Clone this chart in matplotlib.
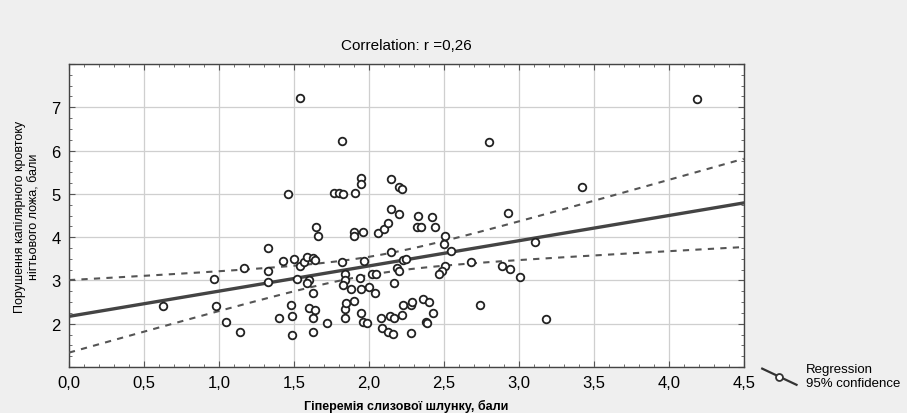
import numpy as np
import matplotlib.pyplot as plt
from matplotlib.lines import Line2D
from matplotlib.legend_handler import HandlerLine2D
from matplotlib.ticker import MultipleLocator, FuncFormatter

# hyperemia score (x) vs capillary blood-flow disturbance score (y)
hyperemia = [1.54, 1.82, 1.95, 1.95, 2.15, 2.20, 2.22, 1.46, 1.77, 1.80,
             1.83, 1.91, 2.15, 2.20, 1.65, 1.66, 1.90, 1.90, 1.96, 2.06,
             2.10, 2.13, 1.33, 2.15, 1.17, 0.97, 1.33, 1.33, 1.43, 1.50,
             1.54, 1.57, 1.59, 1.63, 1.64, 1.82, 1.97, 1.52, 1.60, 1.59,
             1.84, 1.84, 1.83, 1.88, 1.94, 1.95, 2.00, 2.04, 2.02, 2.05,
             2.19, 2.20, 2.17, 2.23, 2.25, 1.63, 0.63, 0.98, 1.05, 1.14,
             1.40, 1.48, 1.49, 1.49, 1.60, 1.64, 1.63, 1.63, 1.72, 1.84,
             1.85, 1.90, 1.84, 1.95, 1.96, 1.99, 2.08, 2.09, 2.13, 2.16,
             2.14, 2.17, 2.22, 2.23, 2.80, 2.33, 2.42, 2.32, 2.35, 2.44,
             2.51, 2.50, 2.55, 2.93, 3.11, 2.68, 2.89, 2.94, 3.01, 2.74,
             3.18, 2.51, 2.49, 2.47, 2.28, 2.29, 2.36, 2.40, 2.43, 2.38,
             2.39, 2.28, 4.19, 3.42]
capillary = [7.22, 6.23, 5.37, 5.23, 5.34, 5.15, 5.11, 4.99, 5.03, 5.02,
             5.00, 5.02, 4.64, 4.54, 4.24, 4.02, 4.13, 4.02, 4.11, 4.10,
             4.18, 4.33, 3.74, 3.65, 3.29, 3.03, 3.22, 2.97, 3.45, 3.50,
             3.33, 3.42, 3.55, 3.51, 3.47, 3.43, 3.46, 3.04, 3.00, 2.93,
             3.14, 3.01, 2.89, 2.80, 3.06, 2.80, 2.85, 2.70, 3.16, 3.16,
             3.29, 3.22, 2.93, 3.47, 3.50, 2.70, 2.41, 2.41, 2.03, 1.82,
             2.13, 2.43, 2.18, 1.74, 2.36, 2.31, 2.14, 1.82, 2.01, 2.35,
             2.49, 2.52, 2.14, 2.24, 2.05, 2.01, 2.13, 1.91, 1.81, 1.76,
             2.17, 2.14, 2.20, 2.43, 6.20, 4.48, 4.46, 4.24, 4.24, 4.23,
             4.02, 3.85, 3.69, 4.56, 3.88, 3.42, 3.33, 3.27, 3.09, 2.43,
             2.12, 3.33, 3.22, 3.14, 2.43, 2.50, 2.58, 2.50, 2.24, 2.03,
             2.01, 1.78, 7.18, 5.15]

x = np.array(hyperemia)
y = np.array(capillary)

# least-squares line and 95% confidence band
n = len(x)
slope, intercept = np.polyfit(x, y, 1)
resid = y - (intercept + slope * x)
s = np.sqrt((resid ** 2).sum() / (n - 2))
xs = np.linspace(0, 4.5, 100)
fit = intercept + slope * xs
se = s * np.sqrt(1 / n + (xs - x.mean()) ** 2 / ((x - x.mean()) ** 2).sum())
t = 1.98
r = np.corrcoef(x, y)[0, 1]


class SlantHandler(HandlerLine2D):
    # statistica-like legend key: a slanted line with a circle in the middle
    def create_artists(self, legend, orig, xd, yd, width, height, fontsize, trans):
        line = Line2D([-xd, -xd + width], [height + 2, -3], color='#333333', lw=1.6)
        mark = Line2D([-xd + width / 2], [height / 2 - 0.5], marker='o', markersize=5,
                      markerfacecolor='white', markeredgecolor='#333333', mew=1.3, ls='')
        line.set_transform(trans)
        mark.set_transform(trans)
        return [line, mark]


plt.rcParams['font.family'] = ['Liberation Sans', 'DejaVu Sans']

fig = plt.figure(figsize=(9.07, 4.14), dpi=100, facecolor='#efefef')
ax = fig.add_axes([0.076, 0.111, 0.744, 0.732])
ax.set_facecolor('white')

ax.plot(xs, fit, color='#444444', lw=2.4, zorder=3)
ax.plot(xs, fit + t * se, color='#555555', lw=1.5, ls=(0, (3, 3)), zorder=3)
ax.plot(xs, fit - t * se, color='#555555', lw=1.5, ls=(0, (3, 3)), zorder=3)
ax.scatter(x, y, s=30, facecolors='white', edgecolors='#222222', linewidths=1.3, zorder=4)

ax.set_xlim(0, 4.5)
ax.set_ylim(1, 8)
ax.xaxis.set_major_locator(MultipleLocator(0.5))
ax.xaxis.set_minor_locator(MultipleLocator(0.1))
ax.yaxis.set_major_locator(MultipleLocator(1))
ax.yaxis.set_minor_locator(MultipleLocator(0.25))
ax.xaxis.set_major_formatter(FuncFormatter(lambda v, p: f'{v:.1f}'.replace('.', ',')))
ax.yaxis.set_major_formatter(FuncFormatter(lambda v, p: '' if v < 2 or v > 7 else f'{v:.0f}'))
ax.tick_params(which='both', direction='in', top=True, right=True, color='#555555')
ax.tick_params(which='major', length=4, labelsize=12, pad=6)
ax.tick_params(which='minor', length=2.5)
ax.grid(True, which='major', color='#cfcfcf', lw=0.9)
for sp in ax.spines.values():
    sp.set_color('#444444')
    sp.set_linewidth(1.0)

ax.set_title(f'Correlation: r ={r:.2f}'.replace('.', ','), fontsize=11, pad=11)
ax.set_xlabel('Гіперемія слизової шлунку, бали', fontsize=9, fontweight='bold', labelpad=6)
ax.set_ylabel('Порушення капілярного кровтоку\nнігтьового ложа, бали', fontsize=9, labelpad=8)

handle = Line2D([], [], color='#333333')
ax.legend([handle], ['Regression\n95% confidence'], loc='center left',
          bbox_to_anchor=(1.0, -0.03), frameon=False, fontsize=9.5,
          handlelength=2.6, handletextpad=0.7, borderaxespad=1.0,
          handler_map={handle: SlantHandler()})

fig.savefig('out.png', dpi=100, facecolor=fig.get_facecolor())
